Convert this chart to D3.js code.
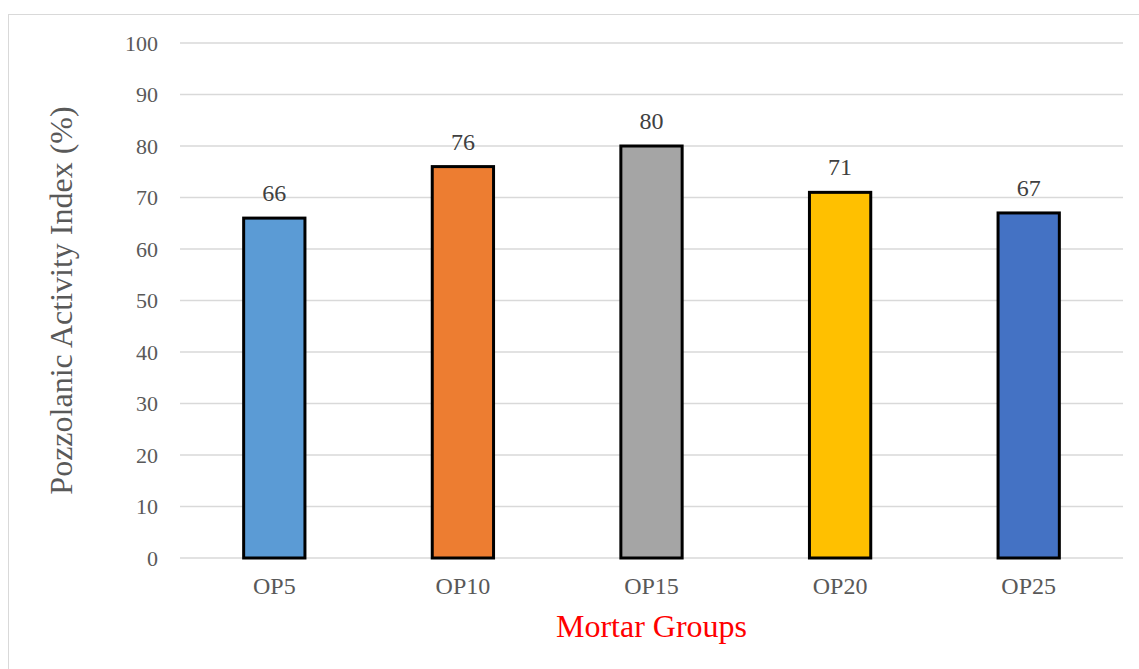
<!DOCTYPE html>
<html>
<head>
<meta charset="utf-8">
<script src="https://cdn.jsdelivr.net/npm/d3@7"></script>
<style>
  body { margin: 0; background: #fff; }
  svg { display: block; font-family: "Liberation Serif", "Times New Roman", serif; }
</style>
</head>
<body>
<svg id="canvas" width="1139" height="669"></svg>
<script>
// chart data
const groups = ['OP5', 'OP10', 'OP15', 'OP20', 'OP25']
const activityIndex = [66, 76, 80, 71, 67]
const barColors = ['#5B9BD5', '#ED7D31', '#A5A5A5', '#FFC000', '#4472C4']
const yTicks = [0, 10, 20, 30, 40, 50, 60, 70, 80, 90, 100]

const serif = '"Liberation Serif", "Times New Roman", serif'

let canvas = d3.select('#canvas')

let plotLeft = 180, plotRight = 1123, plotTop = 43, plotBottom = 558

// outer frame
canvas.append('rect')
    .attr('x', 8.5).attr('y', 14.5)
    .attr('width', 1140).attr('height', 670)
    .attr('fill', 'none')
    .attr('stroke', '#d9d9d9')
    .attr('stroke-width', 1)

let xScale = d3.scaleBand()
    .domain(groups)
    .range([plotLeft, plotRight])
    .paddingInner(0.675)
    .paddingOuter(0.3375)

let yScale = d3.scaleLinear()
    .domain([0, 100])
    .range([plotBottom, plotTop])

// gridlines
canvas.append('g')
    .selectAll('line')
    .data(yTicks)
    .enter()
    .append('line')
    .attr('x1', plotLeft).attr('x2', plotRight)
    .attr('y1', (d) => yScale(d)).attr('y2', (d) => yScale(d))
    .attr('stroke', '#d9d9d9')
    .attr('stroke-width', 1.5)

// y axis labels
let yAxis = d3.axisLeft(yScale).tickValues(yTicks).tickSize(0).tickPadding(0)
canvas.append('g')
    .attr('transform', 'translate(' + (plotLeft - 22) + ',0)')
    .call(yAxis)
    .call((g) => g.select('.domain').remove())
    .selectAll('text')
    .style('font-size', '22px')
    .style('font-family', serif)
    .style('fill', '#595959')

// x axis labels
let xAxis = d3.axisBottom(xScale).tickSize(0).tickPadding(0)
canvas.append('g')
    .attr('transform', 'translate(0,' + (plotBottom + 19) + ')')
    .call(xAxis)
    .call((g) => g.select('.domain').remove())
    .selectAll('text')
    .style('font-size', '24px')
    .style('font-family', serif)
    .style('fill', '#595959')

// bars
canvas.append('g')
    .selectAll('rect')
    .data(groups)
    .enter()
    .append('rect')
    .attr('x', (d) => xScale(d))
    .attr('y', (d, i) => yScale(activityIndex[i]))
    .attr('width', xScale.bandwidth())
    .attr('height', (d, i) => plotBottom - yScale(activityIndex[i]))
    .attr('fill', (d, i) => barColors[i])
    .attr('stroke', '#000')
    .attr('stroke-width', 3)

// value labels
canvas.append('g')
    .selectAll('text')
    .data(groups)
    .enter()
    .append('text')
    .attr('x', (d) => xScale(d) + xScale.bandwidth() / 2)
    .attr('y', (d, i) => yScale(activityIndex[i]) - 17)
    .attr('text-anchor', 'middle')
    .style('font-size', '24px')
    .style('font-family', serif)
    .style('fill', '#404040')
    .text((d, i) => activityIndex[i])

// axis titles
canvas.append('text')
    .attr('transform', 'translate(72,' + ((plotTop + plotBottom) / 2) + ') rotate(-90)')
    .attr('text-anchor', 'middle')
    .style('font-size', '32px')
    .style('font-family', serif)
    .style('fill', '#595959')
    .text('Pozzolanic Activity Index (%)')

canvas.append('text')
    .attr('x', (plotLeft + plotRight) / 2)
    .attr('y', 637)
    .attr('text-anchor', 'middle')
    .style('font-size', '32px')
    .style('font-family', serif)
    .style('fill', '#FF0000')
    .text('Mortar Groups')
</script>
</body>
</html>
